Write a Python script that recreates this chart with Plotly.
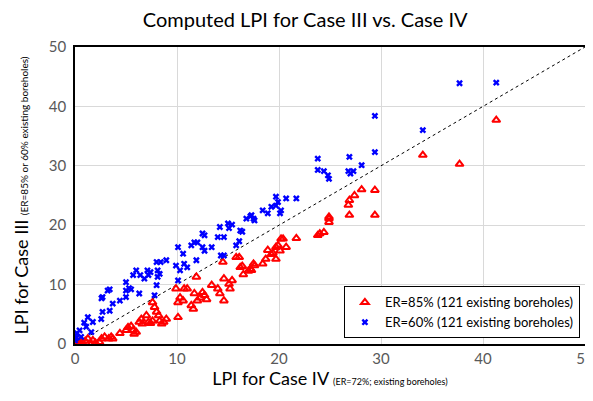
import plotly.graph_objects as go

# ER=85% (red triangles)
red_x = [0, 0.3, 0.7, 1.26, 1.6, 1.75, 2.4, 2.6, 2.9, 3.3, 3.55, 3.7, 0.1, 0.5, 1.0, 2.0,
         4.4, 5.0, 5.2, 5.5, 5.7, 5.8, 6.0,
         6.3, 6.5, 6.6, 7.0, 7.2, 7.4, 7.6,
         7.6, 7.8, 8.0, 8.2, 8.3, 8.5, 8.7, 8.95,
         10.1, 9.9, 10.1, 10.3, 10.6, 10.7, 11.0,
         11.4, 11.6, 11.7, 11.9, 12.0, 12.3, 12.5, 12.7, 12.9,
         13.4, 14.0, 14.2, 14.6, 14.5, 14.6, 15.1, 15.2, 15.4,
         15.8, 16.1, 16.2, 16.4, 16.5, 17.0, 17.2, 17.5,
         17.3, 17.6, 18.4, 18.7, 18.9, 19.25, 19.4, 19.7, 19.7, 19.9, 20.1, 20.2, 20.4, 20.7, 21.7,
         23.8, 24.0, 24.4, 24.9, 24.9, 24.9,
         26.8, 26.9, 27.4, 28.1, 26.9, 29.4, 29.4,
         34.1, 37.7, 41.3]
red_y = [0, 0.3, 0.3, 0.9, 0, 0.6, 0.3, 0.9, 1.2, 0.9, 1.2, 0.9, 0.2, 0.1, 0.5, 0.2,
         1.8, 2.3, 2.8, 3.0, 2.3, 1.7, 2.0,
         3.7, 4.2, 3.4, 4.8, 3.7, 3.5, 3.9,
         7.0, 6.2, 5.4, 4.8, 3.9, 3.4, 3.7, 4.2,
         4.5, 9.3, 7.0, 7.8, 7.3, 9.3, 9.3,
         6.5, 5.9, 8.5, 11.3, 7.3, 7.8, 8.7, 8.2, 7.5,
         9.9, 9.3, 8.5, 7.3, 13.8, 11.0, 10.1, 9.3, 10.7,
         14.6, 14.6, 12.9, 13.1, 11.7, 12.3, 12.6, 13.5,
         12.4, 13.2, 13.5, 14.3, 15.8, 15.1, 15.3, 14.3, 16.3, 16.6, 15.7, 17.7, 17.7, 16.3, 17.8,
         18.3, 18.6, 18.8, 21.4, 20.5, 21.1,
         23.4, 24.2, 25.0, 26.0, 21.7, 25.9, 21.7,
         31.8, 30.3, 37.7]

# ER=60% (blue crosses)
blue_x = [0, 0, 0.1, 0.45, 0.9, 1.1, 1.26, 1.6, 1.75, 2.57, 2.7, 3.4, 0.2, 0.6,
          2.7, 2.6, 3.2, 3.4, 3.7, 4.4, 5.0, 5.0, 5.3, 5.5, 6.3,
          5.0, 5.7, 6.0, 6.4, 6.8, 7.1, 7.2, 7.4,
          8.0, 8.1, 7.8, 8.1, 8.3, 8.0, 8.4, 8.95,
          10.1, 10.6, 9.9, 10.3, 10.7, 11.0, 10.1,
          11.9, 11.4, 11.7, 12.0, 12.5, 12.7, 12.5, 12.7, 13.4,
          14.0, 14.2, 14.6, 14.3, 14.6, 15.0, 15.1, 15.4,
          15.8, 16.1, 16.2, 16.4, 16.8, 17.2, 17.5,
          17.3, 17.6, 18.4, 18.9, 19.25, 19.7, 19.9, 19.7, 20.1, 20.2, 20.7, 21.7,
          23.8, 23.8, 24.4, 24.8, 24.9,
          26.9, 26.8, 27.0, 27.3, 28.1, 29.4, 29.4,
          34.1, 37.7, 41.3]
blue_y = [1.4, 0.6, 1.0, 2.3, 3.6, 2.9, 4.5, 2.0, 3.7, 4.2, 5.4, 5.6, 1.8, 1.2,
          7.9, 7.7, 9.0, 9.2, 6.8, 7.3, 7.9, 9.0, 9.4, 9.2, 8.5,
          10.4, 11.6, 12.4, 11.6, 11.0, 12.4, 11.6, 12.1,
          9.9, 12.4, 8.2, 11.3, 11.8, 13.8, 13.8, 14.1,
          16.3, 15.2, 13.2, 12.4, 13.5, 12.9, 10.7,
          14.1, 16.6, 17.1, 17.1, 18.6, 18.3, 16.3, 15.7, 16.3,
          18.0, 19.7, 18.0, 14.9, 14.9, 20.3, 19.5, 20.1,
          16.6, 17.3, 19.1, 18.9, 21.1, 21.5, 21.1,
          21.7, 20.8, 22.5, 22.0, 23.1, 24.8, 23.9, 23.3, 22.0, 22.5, 24.5, 24.5,
          31.2, 29.3, 29.1, 28.4, 27.8,
          31.5, 29.1, 28.7, 29.1, 30.1, 38.4, 32.3,
          36.0, 43.9, 44.0]

line_xy = [0, 50]
ticks = [0, 10, 20, 30, 40, 50]

fig = go.Figure()
fig.add_trace(go.Scatter(x=line_xy, y=line_xy, mode="lines",
                         line=dict(color="black", width=1, dash="dot"),
                         showlegend=False, hoverinfo="skip"))
fig.add_trace(go.Scatter(x=red_x, y=red_y, mode="markers",
                         name="ER=85% (121 existing boreholes)",
                         marker=dict(symbol="triangle-up-open", size=7, color="#ff0000",
                                     line=dict(width=2, color="#ff0000"))))
fig.add_trace(go.Scatter(x=blue_x, y=blue_y, mode="markers",
                         name="ER=60% (121 existing boreholes)",
                         marker=dict(symbol="x", size=6, color="#0000ff",
                                     line=dict(width=0))))

font_family = "Lato, 'Open Sans', sans-serif"
fig.update_layout(
    width=585, height=385,
    margin=dict(l=67, r=8, t=39, b=49),
    paper_bgcolor="white", plot_bgcolor="white",
    font=dict(family=font_family, color="black"),
    title=dict(text="Computed LPI for Case III vs. Case IV", x=0.508, xanchor="center",
               y=0.968, yanchor="middle", font=dict(size=20, color="black")),
    xaxis=dict(range=[0, 50], tickvals=ticks, showgrid=True, gridcolor="#d9d9d9",
               showline=True, linecolor="black", linewidth=1.5, mirror=True,
               zeroline=False, ticks="", tickfont=dict(size=15, color="#595959"),
               automargin=False, ticklabeloverflow="allow",
               title=dict(text="LPI for Case IV <span style='font-size:9px'>(ER=72%; existing boreholes)</span>",
                          font=dict(size=18, color="black"), standoff=6)),
    yaxis=dict(range=[0, 50], tickvals=ticks, showgrid=True, gridcolor="#d9d9d9",
               showline=True, linecolor="black", linewidth=1.5, mirror=True,
               zeroline=False, ticks="", tickfont=dict(size=15, color="#595959"),
               ticklabelstandoff=4, automargin=False,
               title=dict(text="LPI for Case III <span style='font-size:10px'>(ER=85% or 60% existing boreholes)</span>",
                          font=dict(size=18, color="black"), standoff=16)),
    legend=dict(x=0.99, xanchor="right", y=0.019, yanchor="bottom",
                bgcolor="white", bordercolor="black", borderwidth=1,
                font=dict(size=13, color="black"), tracegroupgap=0, itemwidth=30),
)

fig.write_html("out.html")
